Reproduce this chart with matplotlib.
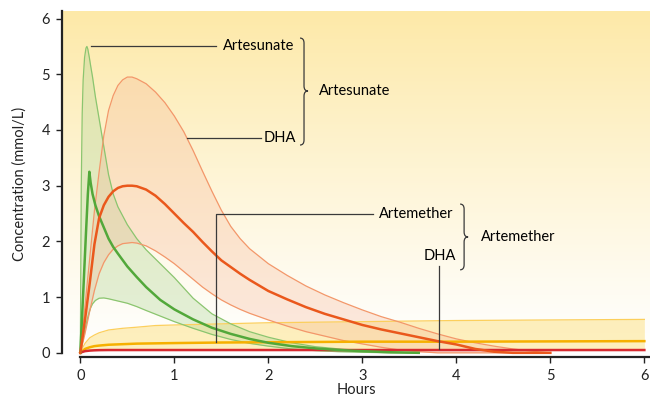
import matplotlib
matplotlib.use("Agg")
import matplotlib.pyplot as plt
import numpy as np
from matplotlib.path import Path
from matplotlib.patches import PathPatch

# Artesunate (green band): hours and concentration (mmol/L)
t_as = [0, 0.01, 0.02, 0.03, 0.045, 0.06, 0.07, 0.08, 0.096, 0.11, 0.13, 0.16, 0.2, 0.25,
        0.3, 0.35, 0.4, 0.5, 0.6, 0.7, 0.85, 1.0, 1.2, 1.4, 1.6, 1.8, 2.0, 2.25, 2.5,
        2.75, 3.0, 3.3, 3.6]
as_hi = [0, 3.0, 4.3, 4.9, 5.3, 5.47, 5.5, 5.45, 5.3, 5.15, 4.95, 4.6, 4.2, 3.7,
         3.2, 2.85, 2.62, 2.3, 2.05, 1.85, 1.6, 1.35, 0.98, 0.7, 0.52, 0.38, 0.28, 0.18, 0.11,
         0.07, 0.04, 0.015, 0]
as_med = [0, 0.35, 0.7, 1.05, 1.6, 2.15, 2.5, 2.85, 3.25, 3.05, 2.85, 2.65, 2.45, 2.25,
          2.05, 1.9, 1.78, 1.55, 1.36, 1.18, 0.95, 0.78, 0.6, 0.45, 0.34, 0.25, 0.18, 0.12, 0.08,
          0.05, 0.03, 0.01, 0]
as_lo = [0, 0.08, 0.17, 0.26, 0.38, 0.5, 0.57, 0.64, 0.74, 0.81, 0.88, 0.94, 0.98, 0.985,
         0.97, 0.95, 0.93, 0.89, 0.83, 0.76, 0.66, 0.56, 0.44, 0.33, 0.24, 0.17, 0.12, 0.07, 0.04,
         0.02, 0.01, 0, 0]

# DHA after artesunate (orange band)
t_dha = [0, 0.05, 0.1, 0.15, 0.2, 0.25, 0.3, 0.35, 0.4, 0.45, 0.5, 0.55, 0.6, 0.7, 0.8, 0.9,
         1.0, 1.1, 1.2, 1.3, 1.4, 1.5, 1.6, 1.7, 1.8, 2.0, 2.2, 2.4, 2.6, 2.8, 3.0, 3.2, 3.4, 3.6,
         3.8, 4.0, 4.2, 4.4, 4.6, 4.8, 5.0]
dha_hi = [0, 0.85, 1.7, 2.55, 3.25, 3.9, 4.35, 4.62, 4.8, 4.9, 4.95, 4.95, 4.92, 4.83, 4.68, 4.49,
          4.25, 3.97, 3.63, 3.26, 2.9, 2.56, 2.27, 2.05, 1.87, 1.6, 1.39, 1.2, 1.04, 0.9, 0.77, 0.65,
          0.55, 0.44, 0.34, 0.25, 0.18, 0.12, 0.07, 0.03, 0]
dha_med = [0, 0.6, 1.25, 1.95, 2.42, 2.65, 2.8, 2.9, 2.96, 2.99, 3.0, 3.0, 2.99, 2.93, 2.82, 2.67,
           2.5, 2.33, 2.17, 1.99, 1.82, 1.66, 1.54, 1.42, 1.31, 1.11, 0.96, 0.82, 0.7, 0.6, 0.5, 0.42,
           0.35, 0.28, 0.21, 0.15, 0.07, 0.02, 0, 0, 0]
dha_lo = [0, 0.35, 0.75, 1.12, 1.42, 1.62, 1.76, 1.86, 1.92, 1.96, 1.97, 1.98, 1.97, 1.92, 1.83, 1.72,
          1.6, 1.46, 1.32, 1.18, 1.06, 0.95, 0.86, 0.78, 0.71, 0.59, 0.48, 0.38, 0.3, 0.22, 0.16, 0.1,
          0.05, 0.02, 0, 0, 0, 0, 0, 0, 0]

# Artemether (yellow band) and its DHA (red line)
t_am = [0, 0.02, 0.05, 0.1, 0.15, 0.2, 0.3, 0.45, 0.6, 0.8, 1.0, 1.5, 2.0, 3.0, 4.0, 5.0, 6.0]
am_hi = [0, 0.08, 0.17, 0.27, 0.32, 0.36, 0.41, 0.44, 0.46, 0.49, 0.5, 0.52, 0.54, 0.56, 0.58, 0.59, 0.6]
am_med = [0, 0.03, 0.07, 0.1, 0.12, 0.13, 0.145, 0.155, 0.165, 0.17, 0.175, 0.185, 0.19, 0.2, 0.2, 0.205, 0.21]
am_lo = [0, 0.02, 0.04, 0.055, 0.06, 0.065, 0.07, 0.07, 0.07, 0.07, 0.07, 0.07, 0.07, 0.07, 0.07, 0.07, 0.07]
am_dha = [0, 0.015, 0.03, 0.04, 0.045, 0.048, 0.05, 0.05, 0.05, 0.05, 0.05, 0.05, 0.05, 0.05, 0.05, 0.05, 0.05]

x_ticks = [0, 1, 2, 3, 4, 5, 6]
y_ticks = [0, 1, 2, 3, 4, 5, 6]

plt.rcParams["font.family"] = ["Lato", "DejaVu Sans"]
plt.rcParams["font.size"] = 10.5

W, H = 650, 399
fig = plt.figure(figsize=(W / 100, H / 100), dpi=100)
ax_box = [62, 11, 650, 357]  # left, top, right, bottom in pixels
ax = fig.add_axes([ax_box[0] / W, 1 - ax_box[3] / H,
                   (ax_box[2] - ax_box[0]) / W, (ax_box[3] - ax_box[1]) / H])
xlim = (-0.195, 6.06)
ylim = (-0.075, 6.136)
ax.set_xlim(*xlim)
ax.set_ylim(*ylim)

# hours / concentration per pixel, used for the braces
kx = (xlim[1] - xlim[0]) / (ax_box[2] - ax_box[0])
ky = (ylim[1] - ylim[0]) / (ax_box[3] - ax_box[1])

# yellow-to-white background wash
top = np.array([253, 233, 168]) / 255
frac = np.linspace(0, 1, 256)[:, None] ** 1.15
grad = 1 - frac * (1 - top)
ax.imshow(grad[:, None, :], extent=(xlim[0], xlim[1], ylim[0], ylim[1]),
          origin="lower", aspect="auto", zorder=0)

# bands
ax.fill_between(t_am, am_lo, am_hi, color="#fde38a", alpha=0.55, lw=0, zorder=1)
ax.fill_between(t_as, as_lo, as_hi, color="#a9d28e", alpha=0.32, lw=0, zorder=2)
ax.fill_between(t_dha, dha_lo, dha_hi, color="#f5b08f", alpha=0.28, lw=0, zorder=3)

for hi, lo, t, c in [(am_hi, None, t_am, "#fccf5c"),
                     (as_hi, as_lo, t_as, "#8bc56f"),
                     (dha_hi, dha_lo, t_dha, "#f3976a")]:
    ax.plot(t, hi, color=c, lw=0.9, zorder=4)
    if lo is not None:
        ax.plot(t, lo, color=c, lw=0.9, zorder=4)

ax.plot(t_am, am_med, color="#f6b000", lw=1.8, zorder=5)
ax.plot(t_am, am_dha, color="#d62a2f", lw=1.8, zorder=5)
ax.plot(t_as, as_med, color="#52a83a", lw=1.8, zorder=6)
ax.plot(t_dha, dha_med, color="#ea581c", lw=1.8, zorder=6)

# leader lines and labels
lc = "#3a3a3a"
llw = 0.9
ax.plot([0.115, 1.445], [5.5, 5.5], color=lc, lw=llw, zorder=7)
ax.text(1.518, 5.5, "Artesunate", ha="left", va="center", zorder=7)
ax.plot([1.135, 1.92], [3.86, 3.86], color=lc, lw=llw, zorder=7)
ax.text(1.954, 3.86, "DHA", ha="left", va="center", zorder=7)

ax.plot([1.445, 1.445, 3.11], [0.2, 2.49, 2.49], color=lc, lw=llw, zorder=7)
ax.text(3.178, 2.49, "Artemether", ha="left", va="center", zorder=7)
ax.plot([3.82, 3.82], [0.07, 1.56], color=lc, lw=llw, zorder=7)
ax.text(3.656, 1.74, "DHA", ha="left", va="center", zorder=7)


def brace(x0, y_top, y_bot, y_tip, w_px=8, r_px=5):
    w = w_px * kx
    xm = x0 + w / 2
    ry = r_px * ky
    verts = [(x0, y_top), (xm, y_top), (xm, y_top - ry),
             (xm, y_tip + ry), (xm, y_tip), (x0 + w, y_tip),
             (xm, y_tip), (xm, y_tip - ry),
             (xm, y_bot + ry), (xm, y_bot), (x0, y_bot)]
    codes = [Path.MOVETO, Path.CURVE3, Path.CURVE3,
             Path.LINETO, Path.CURVE3, Path.CURVE3,
             Path.CURVE3, Path.CURVE3,
             Path.LINETO, Path.CURVE3, Path.CURVE3]
    ax.add_patch(PathPatch(Path(verts, codes), fill=False, ec=lc, lw=llw, zorder=7))


brace(2.337, 5.65, 3.73, 4.70)
ax.text(2.54, 4.70, "Artesunate", ha="left", va="center", zorder=7)
brace(4.04, 2.67, 1.49, 2.08)
ax.text(4.26, 2.08, "Artemether", ha="left", va="center", zorder=7)

# axes styling
for s in ("top", "right"):
    ax.spines[s].set_visible(False)
ax.spines["left"].set_bounds(0, ylim[1])
ax.spines["bottom"].set_bounds(0, xlim[1])
for s in ("left", "bottom"):
    ax.spines[s].set_linewidth(1.6)
    ax.spines[s].set_color("#222222")
    ax.spines[s].set_zorder(8)
ax.set_xticks(x_ticks)
ax.set_yticks(y_ticks)
ax.tick_params(length=4.5, width=1.0, color="#222222", labelsize=10.5, labelcolor="#222222")
ax.tick_params(axis="x", pad=4)
ax.tick_params(axis="y", pad=4)
ax.set_xlabel("Hours", labelpad=0, color="#222222")
ax.set_ylabel("Concentration (mmol/L)", labelpad=11, color="#222222")

fig.savefig("out.png", dpi=100)
